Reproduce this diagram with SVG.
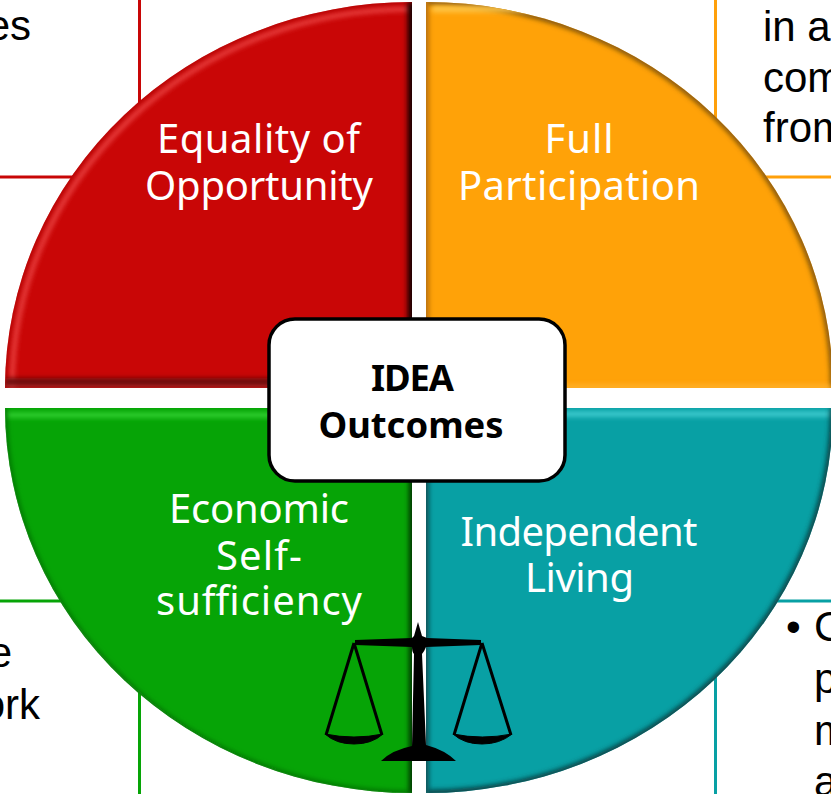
<svg xmlns="http://www.w3.org/2000/svg" width="831" height="794" viewBox="0 0 831 794">
<style>
.out{font-family:"Liberation Sans",Arial,sans-serif;font-size:42px;fill:#000}
.end{text-anchor:end}
.lab{font-family:"Noto Sans","Open Sans",sans-serif;font-size:40px;fill:#fff;text-anchor:middle}
.ctr{font-family:"Noto Sans","Open Sans",sans-serif;font-size:36.400px;font-weight:700;fill:#000;text-anchor:middle}
.ln{fill:none;stroke-width:3}
.bev{fill:none;filter:url(#b)}
</style>
<defs>
<filter id="b" filterUnits="userSpaceOnUse" x="0" y="0" width="831" height="794"><feGaussianBlur stdDeviation="2.400"/></filter>
<path id="qr" d="M5 388A407 386 0 0 1 412 2V388Z"/>
<path id="qo" d="M426 388V2A407 386 0 0 1 833 388Z"/>
<path id="qg" d="M5 408H412V793A407 385 0 0 1 5 408Z"/>
<path id="qt" d="M426 408H833A407 385 0 0 1 426 793Z"/>
<clipPath id="cr"><use href="#qr"/></clipPath>
<clipPath id="co"><use href="#qo"/></clipPath>
<clipPath id="cg"><use href="#qg"/></clipPath>
<clipPath id="ct"><use href="#qt"/></clipPath>
</defs>
<rect width="831" height="794" fill="#fff"/>
<g id="connectors">
<path class="ln" stroke="#c80606" d="M139.500 0V110M0 177H90"/>
<path class="ln" stroke="#ffa00a" d="M715.500 0V125M755 177H831"/>
<path class="ln" stroke="#06a406" d="M0 601H70M139.500 680V794"/>
<path class="ln" stroke="#08a0a4" d="M770 601H831M715.500 670V794"/>
</g>
<g id="equality">
<use href="#qr" fill="#c90606"/>
<g clip-path="url(#cr)">
<path class="bev" stroke="#a80505" stroke-width="3" d="M5 388A407 386 0 0 1 412 2"/>
<path class="bev" stroke="#ee4a48" stroke-width="4" d="M12 388A400 379 0 0 1 412 9"/>
<path class="bev" stroke="#6a0808" stroke-width="8" d="M5 382H412"/>
<path class="bev" stroke="#a04848" stroke-width="2" d="M5 388H412"/>
<path class="bev" stroke="#1c0000" stroke-width="11" d="M413 2V388"/>
</g>
<text class="lab"><tspan x="258.500" y="153" textLength="203">Equality of</tspan><tspan x="259" y="200" textLength="228">Opportunity</tspan></text>
</g>
<g id="participation">
<use href="#qo" fill="#ffa208"/>
<g clip-path="url(#co)">
<path class="bev" stroke="#6e4a10" stroke-width="5" d="M426 2A407 386 0 0 1 833 388"/>
<path class="bev" stroke="#b87008" stroke-width="8" d="M425 2V388"/>
<path class="bev" stroke="#ffc84a" stroke-width="6" d="M432 9H560"/>
<path class="bev" stroke="#ffba40" stroke-width="3" d="M426 387H831"/>
</g>
<text class="lab"><tspan x="579" y="153" textLength="69">Full</tspan><tspan x="579" y="200" textLength="242">Participation</tspan></text>
</g>
<g id="self-sufficiency">
<use href="#qg" fill="#06a406"/>
<g clip-path="url(#cg)">
<path class="bev" stroke="#34d434" stroke-width="5" d="M5 415H412"/>
<path class="bev" stroke="#0c6c0c" stroke-width="4" d="M5 408A407 385 0 0 0 412 793"/>
<path class="bev" stroke="#053205" stroke-width="8" d="M413 408V793"/>
</g>
<text class="lab"><tspan x="259" y="523" textLength="180">Economic</tspan><tspan x="259" y="570" textLength="86">Self-</tspan><tspan x="259" y="615" textLength="206">sufficiency</tspan></text>
</g>
<g id="independent">
<use href="#qt" fill="#08a0a4"/>
<g clip-path="url(#ct)">
<path class="bev" stroke="#44d0d4" stroke-width="5" d="M426 414H833"/>
<path class="bev" stroke="#083c40" stroke-width="6" d="M426 793A407 385 0 0 0 833 408"/>
<path class="bev" stroke="#0a5054" stroke-width="8" d="M425 408V793"/>
</g>
<text class="lab"><tspan x="579" y="546" textLength="237">Independent</tspan><tspan x="579.500" y="592" textLength="109">Living</tspan></text>
</g>
<g id="outcomes">
<rect x="269" y="319" width="296" height="162" rx="26" fill="#fff" stroke="#000" stroke-width="3.500"/>
<text class="ctr"><tspan x="412.500" y="391" textLength="83">IDEA</tspan><tspan x="411" y="438">Outcomes</tspan></text>
</g>
<g id="scales">
<path d="M418 622L422 636 L427 638 L481 640V645L426 647 Q424 652 422 654L426 745 Q445 750 456 761H381Q392 750 412 746L414 654Q412 652 412 647L355 645V640L412 638L414 636Z"/>
<path d="M354 643L326 735M354 643L382 735M482 643L454 735M482 643L511 735" stroke="#000" stroke-width="3" fill="none"/>
<path d="M325 734Q354 740 383 734Q372 744 354 744Q336 744 325 734ZM453 734Q482 740 512 734Q500 744 482 744Q464 744 453 734Z" stroke="#000"/>
</g>
<g id="outside-text">
<text class="out end" x="31" y="40">es</text>
<text class="out" x="763" y="41">in a</text>
<text class="out" x="763" y="92">com</text>
<text class="out" x="763" y="142">from</text>
<text class="out end" x="12" y="667">e</text>
<text class="out end" x="40" y="719">ork</text>
<text class="out" x="786" y="641">•</text>
<text class="out" x="814" y="641">C</text>
<text class="out" x="814" y="693">p</text>
<text class="out" x="814" y="745">m</text>
<text class="out" x="814" y="796">a</text>
</g>
</svg>
